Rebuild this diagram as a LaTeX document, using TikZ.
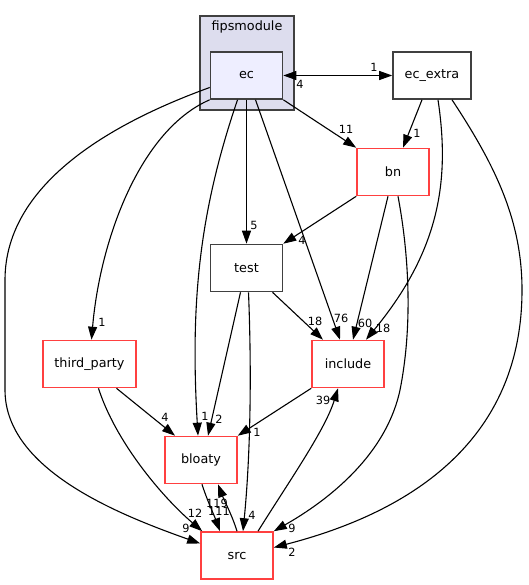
\documentclass[tikz,border=0pt]{standalone}
\usepackage{fontspec}
\setmainfont{DejaVu Sans}
\usepackage{xcolor}
\usetikzlibrary{arrows.meta,calc}
\definecolor{boxgray}{HTML}{404040}
\definecolor{boxred}{HTML}{FF4040}
\definecolor{clusterfill}{HTML}{DDDDEE}
\definecolor{ecfill}{HTML}{EEEEFF}

\begin{document}
\begin{tikzpicture}[x=1pt,y=-1pt,
    dirnode/.style={draw=boxgray,line width=1.6pt,minimum width=72pt,minimum height=47pt,inner sep=0pt,font=\fontsize{12.8}{15}\selectfont},
    rednode/.style={dirnode,draw=boxred},
    dep/.style={-{Triangle[length=13pt,width=9pt]},line width=1.1pt},
    num/.style={inner sep=0pt,font=\fontsize{11.3}{13}\selectfont}]
    \useasboundingbox[fill=white] (0,0) rectangle (528,585);
    % Draw cluster
    \draw[boxgray,fill=clusterfill,line width=1.6pt] (200,16) rectangle (294,110);
    \node[font=\fontsize{12.8}{15}\selectfont] (fipsmodule) at (247,27) {fipsmodule};
    % Draw nodes
    \node[dirnode,fill=ecfill] (ec) at (246.5,75.5) {ec};
    \node[dirnode,minimum width=78pt] (ec_extra) at (432,75.5) {ec\_extra};
    \node[rednode] (bn) at (393,172) {bn};
    \node[dirnode] (test) at (246.5,268) {test};
    \node[rednode] (include) at (348,364) {include};
    \node[rednode,minimum width=93pt] (third_party) at (89.5,364) {third\_party};
    \node[rednode] (bloaty) at (201,460) {bloaty};
    \node[rednode] (src) at (237,555.5) {src};
    % Draw dependencies
    \draw[dep,{Triangle[length=13pt,width=9pt]}-{Triangle[length=13pt,width=9pt]}] (ec.east) -- (ec_extra.west);
    \draw[dep] (ec.south east) -- (bn.north west);
    \draw[dep] ($(ec_extra.south)+(-10,0)$) -- ($(bn.north)+(10,0)$);
    \draw[dep] (ec.south) -- (test.north);
    \draw[dep] (bn.south west) -- (test.north east);
    \draw[dep] ($(ec.south)+(9,0)$) -- ($(include.north)+(-8,0)$);
    \draw[dep] ($(bn.south)+(-5,0)$) -- ($(include.north)+(5,0)$);
    \draw[dep] ($(ec_extra.south)+(6,0)$) .. controls (450,180) and (440,250) .. ($(include.north)+(18,0)$);
    \draw[dep] ($(test.south)+(26,0)$) -- ($(include.north)+(-25,0)$);
    \draw[dep] (ec.south west) .. controls (140,130) and (100,240) .. ($(third_party.north)+(2,0)$);
    \draw[dep] ($(ec.west)+(0,12)$) .. controls (120,120) and (5,180) .. (5,280) -- (5,390) .. controls (5,470) and (120,515) .. ($(src.west)+(0,-12)$);
    \draw[dep] ($(ec.south)+(-9,0)$) .. controls (200,210) and (190,300) .. ($(bloaty.north)+(-3,0)$);
    \draw[dep] ($(test.south)+(-6,0)$) -- ($(bloaty.north)+(7,0)$);
    \draw[dep] (include.south west) -- (bloaty.north east);
    \draw[dep] ($(third_party.south)+(27,0)$) -- ($(bloaty.north)+(-26,0)$);
    \draw[dep] ($(third_party.south)+(9,0)$) .. controls (115,440) and (160,495) .. ($(src.north west)+(2,0)$);
    \draw[dep] ($(bloaty.south)+(1,0)$) .. controls (207,500) and (214,515) .. ($(src.north)+(-17,0)$);
    \draw[dep] (src.north) .. controls (232,515) and (224,500) .. ($(bloaty.south)+(17,0)$);
    \draw[dep] ($(test.south)+(2,0)$) .. controls (252,380) and (250,460) .. ($(src.north)+(6,0)$);
    \draw[dep] ($(src.north)+(21,0)$) .. controls (290,480) and (325,430) .. ($(include.south)+(-10,0)$);
    \draw[dep] ($(bn.south)+(5,0)$) .. controls (410,260) and (412,330) .. (400,390) .. controls (385,460) and (320,505) .. (src.north east);
    \draw[dep] ($(ec_extra.south)+(20,0)$) .. controls (495,165) and (522,220) .. (522,290) .. controls (522,460) and (380,520) .. ($(src.east)+(0,-8)$);
    % Label values
    \node[num] (n_ec_ecx) at (374,67) {1};
    \node[num] (n_ecx_ec) at (300,84) {4};
    \node[num] (n_ec_bn) at (346,129) {11};
    \node[num] (n_ecx_bn) at (417,133) {1};
    \node[num] (n_ec_test) at (254,225) {5};
    \node[num] (n_bn_test) at (302,240) {4};
    \node[num] (n_test_inc) at (315,321) {18};
    \node[num] (n_ec_inc) at (341,318) {76};
    \node[num] (n_bn_inc) at (365,323) {60};
    \node[num] (n_ecx_inc) at (383,328) {18};
    \node[num] (n_ec_tp) at (102,322) {1};
    \node[num] (n_tp_bl) at (165,417) {4};
    \node[num] (n_ec_bl) at (205,416) {1};
    \node[num] (n_test_bl) at (219,419) {2};
    \node[num] (n_inc_bl) at (257,432) {1};
    \node[num] (n_tp_src) at (195,513) {12};
    \node[num] (n_bl_src) at (219,511) {111};
    \node[num] (n_src_bl) at (217,503) {119};
    \node[num] (n_test_src) at (252,515) {4};
    \node[num] (n_ec_src) at (186,528) {9};
    \node[num] (n_src_inc) at (323,400) {39};
    \node[num] (n_bn_src) at (292,528) {9};
    \node[num] (n_ecx_src) at (292,552) {2};
\end{tikzpicture}
\end{document}
